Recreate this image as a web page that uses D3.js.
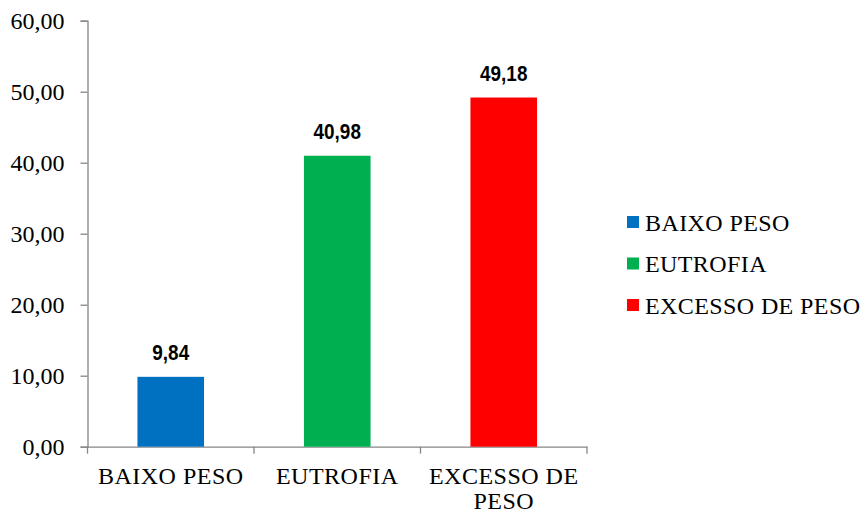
<!DOCTYPE html>
<html><head><meta charset="utf-8">
<script src="https://cdn.jsdelivr.net/npm/d3@7"></script>
<style>body{margin:0;background:#fff}</style>
</head><body>
<svg id="c" width="866" height="514"></svg>
<script>
const categories = ["BAIXO PESO", "EUTROFIA", "EXCESSO DE PESO"];
const values = [9.84, 40.98, 49.18];
const colors = ["#0070C0", "#00B050", "#FF0000"];
const yTicks = [0, 10, 20, 30, 40, 50, 60];
const xLabelLines = [["BAIXO PESO"], ["EUTROFIA"], ["EXCESSO DE", "PESO"]];

const svg = d3.select("#c");
const m = {left: 87.5, right: 587, top: 20.7, bottom: 446.7};
const fmt = v => v.toFixed(2).replace(".", ",");

const x = d3.scaleBand().domain(categories).range([m.left, m.right]).padding(0);
const y = d3.scaleLinear().domain([0, 60]).range([m.bottom, m.top]);
const axisColor = "#868686";
const serif = "'Liberation Serif','Times New Roman',serif";
const sans = "'Liberation Sans Narrow','Arial Narrow','Liberation Sans',Arial,sans-serif";

// y axis
const yAxis = svg.append("g").attr("transform", `translate(${m.left},0)`)
  .call(d3.axisLeft(y).tickValues(yTicks).tickFormat(fmt).tickSize(7).tickPadding(16));
yAxis.select(".domain").attr("stroke", axisColor).attr("stroke-width", 1.3);
yAxis.selectAll(".tick line").attr("stroke", axisColor).attr("stroke-width", 1.3);
yAxis.selectAll(".tick text").attr("font-family", serif).attr("font-size", 24).attr("fill", "#000");

// x axis
const xAxis = svg.append("g").attr("transform", `translate(0,${m.bottom})`)
  .call(d3.axisBottom(x).tickValues([]).tickSizeOuter(0));
xAxis.select(".domain").attr("stroke", axisColor).attr("stroke-width", 1.3);
const bounds = [m.left].concat(categories.map(c => x(c) + x.bandwidth()));
xAxis.selectAll("line.sep").data(bounds).enter().append("line").attr("class", "sep")
  .attr("x1", d => d).attr("x2", d => d).attr("y1", 0).attr("y2", 7)
  .attr("stroke", axisColor).attr("stroke-width", 1.3);

// x labels
categories.forEach((c, i) => {
  const t = svg.append("text").attr("text-anchor", "middle")
    .attr("font-family", serif).attr("font-size", 24).attr("letter-spacing", 0.5).attr("fill", "#000");
  xLabelLines[i].forEach((ln, j) => {
    t.append("tspan").attr("x", x(c) + x.bandwidth() / 2)
      .attr("y", 484 + j * 24.5).text(ln);
  });
});

// bars
const bw = x.bandwidth() * 0.4;
svg.selectAll("rect.bar").data(values).enter().append("rect").attr("class", "bar")
  .attr("x", (d, i) => x(categories[i]) + x.bandwidth() / 2 - bw / 2)
  .attr("width", bw)
  .attr("y", d => y(d))
  .attr("height", d => y(0) - y(d))
  .attr("fill", (d, i) => colors[i]);

// value labels (horizontally condensed bold sans)
svg.selectAll("text.val").data(values).enter().append("text").attr("class", "val")
  .attr("transform", (d, i) => `translate(${x(categories[i]) + x.bandwidth() / 2},${y(d) - 17}) scale(0.88,1)`)
  .attr("text-anchor", "middle")
  .attr("font-family", sans).attr("font-weight", "bold").attr("font-size", 21.5)
  .attr("fill", "#000")
  .text(d => fmt(d));

// legend
const lg = svg.append("g");
categories.forEach((c, i) => {
  const cy = 222 + i * 41.5;
  lg.append("rect").attr("x", 627).attr("y", cy - 6).attr("width", 12).attr("height", 12).attr("fill", colors[i]);
  lg.append("text").attr("x", 645).attr("y", cy + 8.5)
    .attr("font-family", serif).attr("font-size", 24).attr("letter-spacing", 0.4).attr("fill", "#000").text(c);
});
</script>
</body></html>
